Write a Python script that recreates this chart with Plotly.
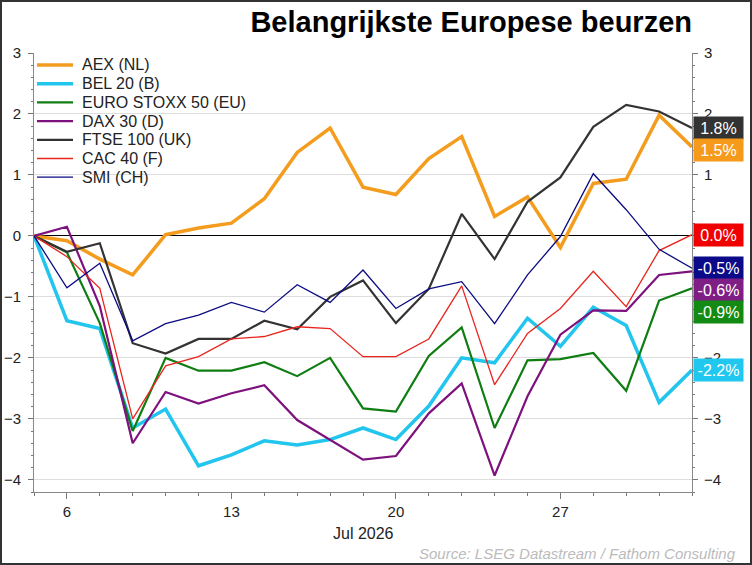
import pandas as pd
import plotly.graph_objects as go

# business days, 3 to 31 July 2026
dates = pd.bdate_range("2026-07-03", "2026-07-31")

names = ["AEX (NL)", "BEL 20 (B)", "EURO STOXX 50 (EU)", "DAX 30 (D)",
         "FTSE 100 (UK)", "CAC 40 (F)", "SMI (CH)"]

aex = [0, -0.08, -0.38, -0.64, 0.02, 0.13, 0.21, 0.61, 1.37, 1.77, 0.80,
       0.68, 1.27, 1.63, 0.32, 0.64, -0.19, 0.86, 0.93, 1.98, 1.46]
bel = [0, -1.39, -1.52, -3.15, -2.84, -3.77, -3.59, -3.36, -3.43, -3.34, -3.15,
       -3.34, -2.79, -2.00, -2.08, -1.35, -1.81, -1.17, -1.47, -2.73, -2.20]
euro = [0, -0.27, -1.43, -3.20, -2.00, -2.21, -2.21, -2.07, -2.30, -2.00, -2.83,
        -2.88, -1.97, -1.50, -3.15, -2.04, -2.02, -1.92, -2.54, -1.06, -0.86]
dax = [0, 0.15, -1.15, -3.40, -2.56, -2.75, -2.58, -2.45, -3.02, -3.35, -3.67,
       -3.61, -2.91, -2.42, -3.93, -2.63, -1.62, -1.22, -1.23, -0.64, -0.58]
ftse = [0, -0.26, -0.12, -1.76, -1.93, -1.69, -1.69, -1.39, -1.53, -1.00, -0.73,
        -1.43, -0.87, 0.36, -0.38, 0.56, 0.96, 1.79, 2.15, 2.04, 1.77]
cac = [0, -0.34, -0.86, -3.00, -2.13, -1.98, -1.69, -1.65, -1.49, -1.52, -1.98,
       -1.98, -1.69, -0.82, -2.44, -1.60, -1.19, -0.58, -1.16, -0.24, 0.02]
smi = [0, -0.85, -0.45, -1.72, -1.44, -1.30, -1.09, -1.25, -0.80, -1.09, -0.56,
       -1.19, -0.87, -0.75, -1.44, -0.64, -0.01, 1.02, 0.43, -0.22, -0.53]

series = [aex, bel, euro, dax, ftse, cac, smi]
colors = ["#F39C1E", "#22C5EE", "#0F7D12", "#7D117D", "#333333", "#E8261E", "#0B0B82"]
label_colors = ["#F59A1A", "#20C8F0", "#138A13", "#7F1F85", "#333333", "#F00000", "#0B0B8A"]
widths = [3.5, 3.5, 2.2, 2.2, 2.2, 1.3, 1.3]

W, H = 752, 565
ML, MR, MT, MB = 34, 60, 53, 73
pw, ph = W - ML - MR, H - MT - MB
y_range = [-4.2, 3]


def px_x(x):
    return (x - ML) / pw


def px_y(y):
    return 1 - (y - MT) / ph


fig = go.Figure()
for name, vals, col, w in zip(names, series, colors, widths):
    fig.add_trace(go.Scatter(x=dates, y=vals, name=name, mode="lines",
                             line=dict(color=col, width=w), showlegend=False))

# invisible copy so the right-hand axis gets drawn
fig.add_trace(go.Scatter(x=dates, y=bel, yaxis="y2", mode="lines", opacity=0,
                         line=dict(width=0), showlegend=False, hoverinfo="skip"))

# legend, drawn by hand to get the tight row spacing
for k, (name, col, w) in enumerate(zip(names, colors, widths)):
    yy = px_y(65 + 18.7 * k)
    fig.add_shape(type="line", xref="paper", yref="paper",
                  x0=px_x(37), x1=px_x(73), y0=yy, y1=yy,
                  line=dict(color=col, width=w))
    fig.add_annotation(x=px_x(80), xref="paper", xanchor="left",
                       y=yy, yref="paper", yanchor="middle",
                       text=name, showarrow=False,
                       font=dict(size=16, color="#222"))

# end labels, pushed down so they don't overlap
gap = 22 / ph * (y_range[1] - y_range[0])
order = sorted(range(len(series)), key=lambda i: -series[i][-1])
prev = None
for i in order:
    last = series[i][-1]
    pos = last if prev is None else min(last, prev - gap)
    prev = pos
    fig.add_annotation(x=1, xref="paper", xanchor="left", xshift=1,
                       y=pos, yref="y", yanchor="middle",
                       text=f"{last:.1f}%", showarrow=False,
                       font=dict(color="white", size=16),
                       bgcolor=label_colors[i], width=46, height=19, borderpad=1.5)

fig.add_annotation(x=0.5, xref="paper", y=px_y(533), yref="paper",
                   text="Jul 2026", showarrow=False, yanchor="middle",
                   font=dict(size=16, color="#222"))
fig.add_annotation(x=px_x(738), xref="paper", xanchor="right",
                   y=px_y(553), yref="paper", yanchor="middle",
                   text="<i>Source: LSEG Datastream / Fathom Consulting</i>",
                   showarrow=False, font=dict(size=15, color="#BBBBBB"))

# frame around the whole picture
fig.add_shape(type="rect", xref="paper", yref="paper",
              x0=px_x(1), x1=px_x(W - 1), y0=px_y(H - 1), y1=px_y(1),
              line=dict(color="#333333", width=2))

mondays = [d for d in dates if d.weekday() == 0]
axis_font = dict(size=15, color="#222")
yaxis_common = dict(range=y_range, tickvals=[-4, -3, -2, -1, 0, 1, 2, 3],
                    ticks="outside", ticklen=5, tickcolor="#777",
                    showline=True, linecolor="#888", linewidth=1,
                    tickfont=axis_font, automargin=False,
                    minor=dict(dtick=0.2, ticks="outside", ticklen=2, tickcolor="#777"))

fig.update_layout(
    width=W, height=H,
    margin=dict(l=ML, r=MR, t=MT, b=MB),
    paper_bgcolor="white", plot_bgcolor="white",
    font=dict(family="Liberation Sans, Arial, sans-serif", color="#222"),
    title=dict(text="<b>Belangrijkste Europese beurzen</b>", x=(W - MR) / W,
               xanchor="right", y=1 - 22 / H, yanchor="middle",
               font=dict(size=29, color="black")),
    showlegend=False,
    xaxis=dict(range=[dates[0], dates[-1]],
               rangebreaks=[dict(bounds=["sat", "mon"])],
               tickvals=mondays, ticktext=[str(d.day) for d in mondays],
               ticks="outside", ticklen=6, tickcolor="#777",
               showline=True, linecolor="#888", showgrid=False,
               tickfont=axis_font, automargin=False,
               minor=dict(tickvals=list(dates), ticks="outside", ticklen=3,
                          tickcolor="#777")),
    yaxis=dict(**yaxis_common, showgrid=True, gridcolor="#DDDDDD",
               zeroline=True, zerolinecolor="black", zerolinewidth=1,
               ticklabelstandoff=4),
    yaxis2=dict(**yaxis_common, overlaying="y", side="right", showgrid=False,
                zeroline=False, ticklabelstandoff=3),
)

fig.write_html("out.html", config={"displayModeBar": False},
               post_script="document.body.style.margin='0';")
